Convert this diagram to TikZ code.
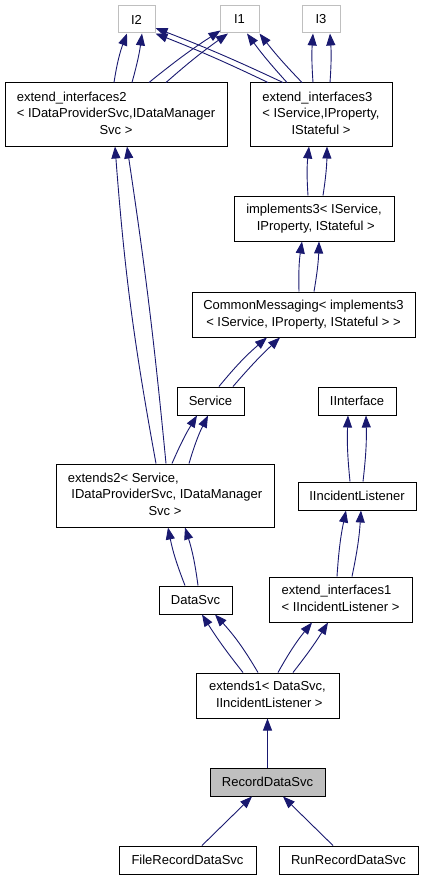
\documentclass[tikz,border=0pt]{standalone}
\usepackage{fontspec}
\setmainfont{Liberation Sans}
\usetikzlibrary{arrows.meta}
\definecolor{edgeblue}{HTML}{191970}
\definecolor{lgray}{HTML}{BFBFBF}
\begin{document}
\begin{tikzpicture}[x=1pt,y=-1pt,
  font=\fontsize{13}{16.5}\selectfont,
  box/.style={draw=black,line width=1pt,inner sep=0pt,fill=white},
  gbox/.style={draw=lgray,line width=1pt,inner sep=0pt,fill=white},
  edge/.style={draw=edgeblue,line width=0.9pt,-{Triangle[length=12pt,width=9pt]}}]
\useasboundingbox[fill=white] (0,0) rectangle (424,880);

% nodes
\node[gbox,minimum width=37pt,minimum height=27pt] (i2) at (136.5,19.5) {I2};
\node[gbox,minimum width=39pt,minimum height=27pt] (i1) at (239.5,19.5) {I1};
\node[gbox,minimum width=38pt,minimum height=27pt] (i3) at (321,19.5) {I3};
\node[box,minimum width=222pt,minimum height=63pt] (ei2) at (116,114.5)
  {\begin{tabular}{@{}l@{}}extend\_interfaces2\\< IDataProviderSvc,IDataManager\\\multicolumn{1}{@{}c@{}}{Svc >}\end{tabular}};
\node[box,minimum width=142pt,minimum height=63pt] (ei3) at (321,114.5)
  {\begin{tabular}{@{}l@{}}extend\_interfaces3\\< IService,IProperty,\\\multicolumn{1}{@{}c@{}}{IStateful >}\end{tabular}};
\node[box,minimum width=160pt,minimum height=45pt] (im3) at (314,218.5)
  {\begin{tabular}{@{}c@{}}implements3< IService,\\\hspace{3.6pt}IProperty, IStateful >\end{tabular}};
\node[box,minimum width=223pt,minimum height=45pt] (cm) at (303.5,314.5)
  {\begin{tabular}{@{}c@{}}CommonMessaging< implements3\\< IService, IProperty, IStateful > >\end{tabular}};
\node[box,minimum width=67pt,minimum height=28pt] (svc) at (210.5,401) {Service};
\node[box,minimum width=78pt,minimum height=28pt] (iif) at (357,401) {IInterface};
\node[box,minimum width=218pt,minimum height=63pt] (ex2) at (165,495.5)
  {\begin{tabular}{@{}l@{}}extends2< Service,\\\hspace{3.6pt}IDataProviderSvc, IDataManager\\\multicolumn{1}{@{}c@{}}{Svc >}\end{tabular}};
\node[box,minimum width=118pt,minimum height=28pt] (iil) at (357,496) {IIncidentListener};
\node[box,minimum width=73pt,minimum height=28pt] (ds) at (195.5,600) {DataSvc};
\node[box,minimum width=143pt,minimum height=45pt] (ei1) at (340.5,599.5)
  {\begin{tabular}{@{}l@{}}extend\_interfaces1\\< IIncidentListener >\end{tabular}};
\node[box,minimum width=143pt,minimum height=45pt] (ex1) at (267.5,695.5)
  {\begin{tabular}{@{}c@{}}extends1< DataSvc,\\\hspace{3.6pt}IIncidentListener >\end{tabular}};
\node[box,fill=lgray,minimum width=115pt,minimum height=28pt] (rds) at (267.5,782) {RecordDataSvc};
\node[box,minimum width=137pt,minimum height=28pt] (frds) at (187.5,860) {FileRecordDataSvc};
\node[box,minimum width=139pt,minimum height=28pt] (rrds) at (348.5,860) {RunRecordDataSvc};

% edges
\draw[edge] ([xshift=-2pt]ei2.north) to[bend left=6] ([xshift=-9.5pt]i2.south);
\draw[edge] ([xshift=16pt]ei2.north) to[bend right=4] ([xshift=5.5pt]i2.south);
\draw[edge] ([xshift=33pt]ei2.north) to[bend left=3] ([xshift=1pt,yshift=3pt]i1.south west);
\draw[edge] ([xshift=50pt]ei2.north) to[bend left=3] ([xshift=-11.5pt]i1.south);
\draw[edge] ([xshift=-53pt]ei3.north) to[bend right=2] (i2.south east);
\draw[edge] ([xshift=-38pt]ei3.north) to[bend right=2] ([yshift=5.5pt]i2.south east);
\draw[edge] ([xshift=-34pt]ei3.north) to[bend left=3] ([xshift=7.5pt]i1.south);
\draw[edge] ([xshift=-19pt]ei3.north) to[bend left=3] (i1.south east);
\draw[edge] ([xshift=-8pt]ei3.north) to[bend left=4] ([xshift=-8pt]i3.south);
\draw[edge] ([xshift=9pt]ei3.north) to[bend right=4] ([xshift=9pt]i3.south);
\draw[edge] ([xshift=-6pt]im3.north) to[bend left=5] ([xshift=-12pt]ei3.south);
\draw[edge] ([xshift=9pt]im3.north) to[bend right=4] ([xshift=6pt]ei3.south);
\draw[edge] ([xshift=-4.5pt]cm.north) to[bend left=5] ([xshift=-12pt]im3.south);
\draw[edge] ([xshift=10.5pt]cm.north) to[bend right=4] ([xshift=5pt]im3.south);
\draw[edge] ([xshift=8.5pt]svc.north) to[bend left=5] ([xshift=-36.5pt]cm.south);
\draw[edge] ([xshift=22.5pt]svc.north) to[bend left=3] ([xshift=-23.5pt]cm.south);
\draw[edge] ([xshift=-9pt]ex2.north) to[bend left=3] ([xshift=-1pt]ei2.south);
\draw[edge] ([xshift=1pt]ex2.north) to[bend right=1.5] ([xshift=11pt]ei2.south);
\draw[edge] ([xshift=7pt]ex2.north) to[bend left=4] ([xshift=-13.5pt]svc.south);
\draw[edge] ([xshift=24pt]ex2.north) to[bend left=5] ([xshift=-2.5pt]svc.south);
\draw[edge] ([xshift=-7pt]iil.north) to[bend left=4] ([xshift=-9pt]iif.south);
\draw[edge] ([xshift=6pt]iil.north) to[bend right=4] ([xshift=9pt]iif.south);
\draw[edge] ([xshift=-3.5pt]ei1.north) to[bend left=4] ([xshift=-11pt]iil.south);
\draw[edge] ([xshift=11.5pt]ei1.north) to[bend right=4] ([xshift=4pt]iil.south);
\draw[edge] ([xshift=-10.5pt]ds.north) to[bend left=5] ([xshift=3pt]ex2.south);
\draw[edge] ([xshift=2.5pt]ds.north) to[bend right=5] ([xshift=20pt]ex2.south);
\draw[edge] ([xshift=-24.5pt]ex1.north) to[bend left=3] ([xshift=6.5pt]ds.south);
\draw[edge] ([xshift=-9.5pt]ex1.north) to[bend right=6] ([xshift=19.5pt]ds.south);
\draw[edge] ([xshift=10.5pt]ex1.north) to[bend left=5] ([xshift=-28.5pt]ei1.south);
\draw[edge] ([xshift=25.5pt]ex1.north) to[bend right=3] ([xshift=-12.5pt]ei1.south);
\draw[edge] (rds.north) -- (ex1.south);
\draw[edge] ([xshift=14.5pt]frds.north) -- ([xshift=-15.5pt]rds.south);
\draw[edge] ([xshift=-15.5pt]rrds.north) -- ([xshift=15.5pt]rds.south);
\end{tikzpicture}
\end{document}
